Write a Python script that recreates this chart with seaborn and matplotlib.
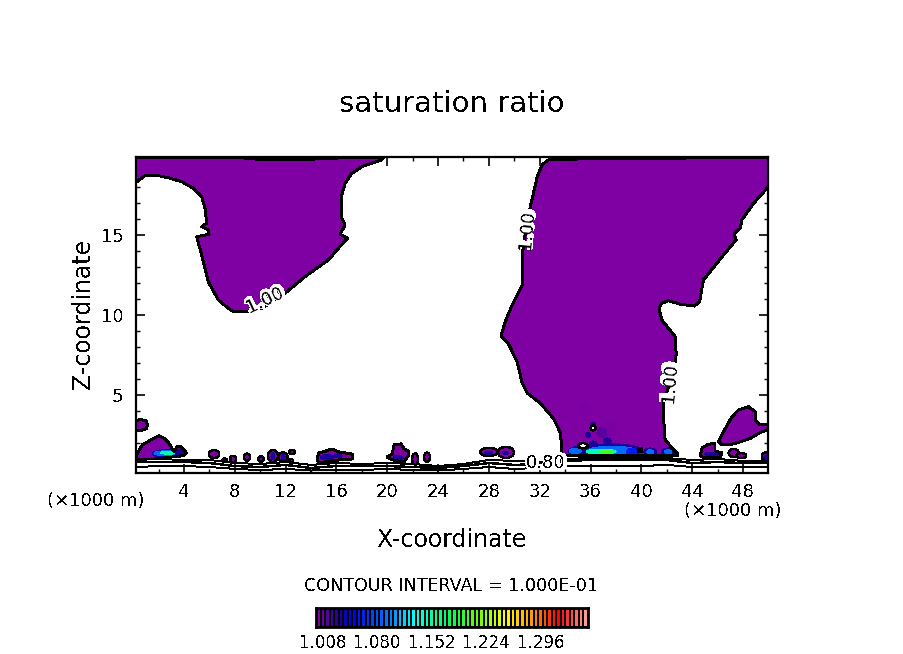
import numpy as np
import seaborn as sns
import matplotlib
matplotlib.use("Agg")
import matplotlib.pyplot as plt
import matplotlib.patheffects as pe
from matplotlib.colors import LinearSegmentedColormap, ListedColormap
from matplotlib.patches import Ellipse

# 1.00 contour outlines (x in km, z in km)
left_cloud_x = [0.22, 0.93, 1.72, 2.77, 3.82, 4.73, 5.39, 5.65, 5.79, 5.39, 5.91, 5.97, 5.0, 5.39, 5.91, 6.70, 7.76,
                8.80, 10.12, 11.95, 13.53, 15.36, 16.15, 16.89, 16.28, 16.68, 16.42, 16.42, 16.68, 17.2, 17.99, 19.57,
                19.7, 0.22]
left_cloud_z = [18.29, 18.71, 18.75, 18.58, 18.33, 17.92, 17.40, 16.67, 15.73, 15.52, 15.31, 15.04, 14.9, 13.75, 12.08,
                10.94, 10.25, 10.21, 10.42, 11.35, 12.4, 13.44, 14.17, 14.79, 15.04, 15.63, 16.04, 17.5, 18.23, 18.85,
                19.27, 19.69, 19.83, 19.83]

main_cloud_x = [32.19, 32.66, 33.45, 36.76, 49.98, 49.98, 48.83, 47.91, 47.78, 47.31, 47.46, 46.46, 44.89, 44.58, 44.16,
                43.06, 42.13, 41.61, 41.4, 41.61, 42.66, 42.74, 42.66, 41.74, 41.71, 41.87, 42.35, 42.82, 42.82, 33.68,
                33.68, 33.6, 33.06, 32.03, 31.01, 30.62, 30.22, 29.51, 28.96, 29.28, 29.83, 30.62, 30.62, 30.85, 31.24,
                31.8, 32.19]
main_cloud_z = [19.38, 19.69, 19.72, 19.78, 19.84, 18.0, 16.98, 15.94, 15.42, 15.1, 14.69, 13.75, 12.19, 10.83, 10.56,
                10.67, 10.9, 10.73, 10.42, 9.69, 8.65, 7.6, 6.77, 4.58, 4.06, 2.19, 1.75, 1.38, 1.19, 1.19,
                2.19, 2.69, 3.56, 4.5, 5.13, 5.75, 7.06, 8.25, 8.69, 9.56, 10.63, 11.88, 13.75, 15.0, 16.69,
                18.63, 19.38]

right_cloud_x = [46.07, 46.47, 47.13, 47.65, 48.43, 48.96, 48.96, 49.35, 49.98, 49.98, 49.22, 48.57, 47.78, 47.13, 46.34,
                 46.07]
right_cloud_z = [2.08, 2.71, 3.64, 4.06, 4.27, 3.96, 3.44, 3.13, 3.13, 2.85, 2.6, 2.29, 2.08, 1.92, 1.88, 2.08]

wall_cloud_x = [0.22, 0.61, 1.01, 1.13, 1.01, 0.61, 0.22, 0.22]
wall_cloud_z = [3.41, 3.47, 3.38, 3.13, 2.88, 2.78, 2.81, 3.41]

low_cloud_x = [0.22, 0.32, 0.72, 1.38, 2.03, 2.43, 2.82, 3.21, 3.47, 3.74, 4.18, 4.0, 3.21, 1.64, 0.22, 0.22]
low_cloud_z = [1.0, 1.35, 1.88, 2.19, 2.46, 2.29, 1.98, 1.46, 1.81, 1.77, 1.39, 1.21, 1.14, 1.0, 1.0, 1.0]

blob16_x = [14.47, 14.63, 15.18, 15.65, 16.2, 16.68, 17.23, 17.23, 16.2, 15.0, 14.55, 14.47]
blob16_z = [1.06, 1.38, 1.5, 1.63, 1.44, 1.38, 1.31, 1.0, 0.94, 0.81, 0.81, 1.06]

blob20_x = [19.98, 20.38, 20.54, 21.09, 21.32, 21.64, 21.64, 21.32, 20.77, 20.22, 19.98]
blob20_z = [1.12, 1.31, 1.88, 1.94, 1.63, 1.5, 1.19, 0.81, 0.88, 1.0, 1.12]

blob45_x = [44.63, 44.79, 45.18, 45.8, 45.8, 46.35, 46.2, 44.79, 44.63]
blob45_z = [1.25, 1.69, 1.88, 2.0, 1.5, 1.38, 1.12, 1.12, 1.25]

top_edge_x = [8.8, 11.0, 13.5, 16.0]
top_edge_z = [19.76, 19.74, 19.74, 19.78]

# small supersaturated pockets
pocket_x = [6.36, 7.2, 7.86, 8.96, 10.06, 11.0, 11.8, 12.5, 12.43, 22.19, 23.13, 28.0, 29.35, 47.27, 47.86, 49.8]
pocket_z = [1.31, 0.94, 1.0, 1.12, 1.0, 1.19, 1.12, 1.44, 0.88, 1.0, 1.12, 1.44, 1.41, 1.38, 1.21, 1.16]
pocket_w = [0.79, 0.31, 0.47, 0.47, 0.39, 0.79, 0.71, 0.47, 0.31, 0.47, 0.47, 1.42, 1.26, 0.79, 0.79, 0.63]
pocket_h = [0.5, 0.19, 0.38, 0.44, 0.38, 0.75, 0.56, 0.25, 0.25, 0.69, 0.56, 0.5, 0.69, 0.5, 0.31, 0.5]

# saturation maxima inside the clouds
hot_x = [35.57, 37.4, 36.9, 2.74, 2.58, 2.74, 3.61, 11.0, 11.8, 15.26, 16.13, 20.85, 28.0, 29.28, 45.5, 49.8,
         35.03, 34.79, 37.7, 37.7, 36.84, 37.23, 39.28, 40.69, 40.69, 42.1, 42.1, 37.3, 36.2, 36.2, 35.8]
hot_z = [4.06, 2.69, 2.63, 1.34, 1.36, 1.39, 1.41, 1.16, 1.12, 1.12, 1.19, 1.06, 1.38, 1.38, 1.3, 1.12,
         1.5, 1.5, 1.55, 1.52, 1.46, 1.5, 1.45, 1.44, 1.44, 1.44, 1.44, 2.13, 1.94, 3.13, 2.5]
hot_w = [0.94, 1.1, 0.79, 2.44, 1.9, 1.18, 0.63, 0.31, 0.31, 1.1, 0.63, 0.79, 0.63, 0.47, 1.1, 0.31,
         1.57, 0.94, 4.72, 3.94, 2.36, 0.94, 0.94, 1.0, 0.55, 1.0, 0.55, 0.63, 0.63, 0.39, 0.39]
hot_h = [0.88, 1.25, 0.63, 0.5, 0.31, 0.19, 0.38, 0.44, 0.31, 0.31, 0.25, 0.38, 0.19, 0.19, 0.25, 0.25,
         0.55, 0.3, 0.8, 0.55, 0.32, 0.19, 0.42, 0.5, 0.28, 0.5, 0.28, 0.38, 0.38, 0.31, 0.31]
hot_level = [1.004, 1.004, 1.012, 1.03, 1.09, 1.15, 1.03, 1.03, 1.03, 1.03, 1.03, 1.03, 1.03, 1.03, 1.03, 1.03,
             1.03, 1.09, 1.03, 1.09, 1.15, 1.2, 1.06, 1.03, 1.09, 1.03, 1.09, 1.03, 1.03, 1.03, 1.03]

# holes and specks
hole_x = [35.4, 36.2]
hole_z = [1.83, 2.94]
hole_w = [0.79, 0.39]
hole_h = [0.31, 0.31]
speck_x = [39.9]
speck_z = [1.56]

# low level contours
base_x = [0.22, 2, 4, 6, 8, 10, 12, 14, 16, 18, 20, 22, 24, 26, 28, 30, 32, 34, 36, 38, 40, 42, 44, 46, 48, 49.97]
base_z1 = [0.94, 1.0, 0.94, 0.94, 0.75, 0.69, 0.81, 0.63, 0.75, 0.69, 0.75, 0.69, 0.56, 0.69, 0.94, 0.88, 0.81, 1.0,
           1.06, 1.06, 1.06, 1.06, 0.94, 1.0, 0.88, 0.88]
base_z2 = [0.81, 0.81, 0.81, 0.75, 0.56, 0.5, 0.63, 0.44, 0.56, 0.56, 0.56, 0.5, 0.44, 0.56, 0.75, 0.63, 0.69, 0.88,
           0.94, 0.94, 0.94, 0.94, 0.75, 0.81, 0.75, 0.75]
base_z3 = [0.5, 0.56, 0.56, 0.5, 0.38, 0.31, 0.38, 0.28, 0.31, 0.31, 0.38, 0.31, 0.28, 0.38, 0.5, 0.38, 0.44, 0.56,
           0.56, 0.56, 0.56, 0.63, 0.5, 0.5, 0.5, 0.5]

label_x = [10.38, 31.0, 42.27, 32.5]
label_z = [10.94, 15.31, 5.75, 0.75]
label_text = ["1.00", "1.00", "1.00", "0.80"]
label_rot = [25, 85, 85, 0]

# colour bar
cbar_levels = [1.002 + 0.006 * k for k in range(60)]
cbar_ticks = ["1.008", "1.080", "1.152", "1.224", "1.296"]

sns.set_style("ticks")
plt.rcParams["font.family"] = ["DejaVu Sans"]
plt.rcParams["text.antialiased"] = False
plt.rcParams["text.color"] = "black"
plt.rcParams["xtick.color"] = "black"
plt.rcParams["ytick.color"] = "black"
plt.rcParams["axes.edgecolor"] = "black"

W, H = 904, 654
PURPLE = "#7f00a3"
level_cmap = LinearSegmentedColormap.from_list(
    "sat", [(0, "#7f00a3"), (0.08, "#1a0099"), (0.13, "#0000f0"), (0.27, "#0080ff"), (0.35, "#00ffff"),
            (0.5, "#00ff4d"), (0.6, "#66ff00"), (0.7, "#ffff00"), (0.8, "#ff9900"), (0.9, "#ff0000"), (1, "#ff9999")])


def level_colour(v):
    return level_cmap((v - 1.002) / 0.354)


fig = plt.figure(figsize=(W / 100, H / 100), dpi=100, facecolor="white")
ax = fig.add_axes([136 / W, 1 - 473 / H, 632 / W, 316 / H])

clouds = [(left_cloud_x, left_cloud_z), (main_cloud_x, main_cloud_z), (right_cloud_x, right_cloud_z),
          (wall_cloud_x, wall_cloud_z), (low_cloud_x, low_cloud_z), (blob16_x, blob16_z), (blob20_x, blob20_z),
          (blob45_x, blob45_z)]
for cx, cz in clouds:
    ax.fill(cx, cz, color=PURPLE, lw=0, antialiased=False, zorder=1)
    sns.lineplot(x=cx, y=cz, sort=False, estimator=None, color="black", lw=1.4, ax=ax, zorder=4, antialiased=False)

for x, z, w, h in zip(pocket_x, pocket_z, pocket_w, pocket_h):
    ax.add_patch(Ellipse((x, z), w, h, fc=PURPLE, ec="black", lw=1.0, antialiased=False, zorder=1.5))

for i in np.argsort(hot_level, kind="stable"):
    ax.add_patch(Ellipse((hot_x[i], hot_z[i]), hot_w[i], hot_h[i], fc=level_colour(hot_level[i]), lw=0,
                         antialiased=False, zorder=2 + i * 0.001))

for x, z, w, h in zip(hole_x, hole_z, hole_w, hole_h):
    ax.add_patch(Ellipse((x, z), w, h, fc="white", ec="black", lw=1.0, antialiased=False, zorder=3))
sns.scatterplot(x=speck_x, y=speck_z, color="black", marker="s", s=14, linewidth=0, ax=ax, zorder=3)

sns.lineplot(x=top_edge_x, y=top_edge_z, sort=False, estimator=None, color="black", lw=1.5, ax=ax, zorder=4,
             antialiased=False)
for zs, lw in [(base_z1, 0.7), (base_z2, 1.0), (base_z3, 0.7)]:
    sns.lineplot(x=base_x, y=zs, sort=False, estimator=None, color="black", lw=lw, ax=ax, zorder=3,
                 antialiased=False)

# white knock-out under each contour label, then the plain label on top
for x, z, s, r in zip(label_x, label_z, label_text, label_rot):
    ax.text(x, z, s, rotation=r, rotation_mode="anchor", ha="center", va="center", fontsize=13, zorder=5,
            path_effects=[pe.Stroke(linewidth=2.5, foreground="white")])
    ax.text(x, z, s, rotation=r, rotation_mode="anchor", ha="center", va="center", fontsize=13, zorder=5.1)

ax.set_xlim(0.22, 49.97)
ax.set_ylim(0.125, 19.875)
ax.set_xticks(np.arange(4, 49, 4))
ax.set_xticks(np.arange(2, 50, 4), minor=True)
ax.set_yticks([5, 10, 15])
ax.set_yticks([z for z in range(1, 20) if z % 5], minor=True)
ax.tick_params(which="major", direction="in", length=6.5, width=1.2, top=True, right=True, labelsize=13)
ax.tick_params(which="minor", direction="in", length=3, width=1.0, top=True, right=True)
ax.tick_params(axis="x", which="major", pad=7)
ax.tick_params(axis="y", which="major", pad=9)
for spine in ax.spines.values():
    spine.set_visible(True)
    spine.set_linewidth(1.6)
    spine.set_zorder(6)
ax.set_xlabel("")
ax.set_ylabel("")

# colour bar strip
cax = fig.add_axes([316 / W, 1 - 627 / H, 272 / W, 19 / H])
sns.heatmap(np.array([cbar_levels]), ax=cax, cbar=False, cmap=ListedColormap([level_colour(v) for v in cbar_levels]),
            linewidths=1.3, linecolor="black", xticklabels=False, yticklabels=False)
cax.set_xticks(np.arange(1, 60, 12) + 0.5)
cax.set_xticklabels(cbar_ticks, fontsize=12, rotation=0)
cax.tick_params(axis="x", length=0, pad=5)
cax.set_yticks([])
for spine in cax.spines.values():
    spine.set_visible(True)
    spine.set_linewidth(2)

fig.text(452 / W, 1 - 104 / H, "saturation ratio", ha="center", va="center", fontsize=21)
fig.text(452 / W, 1 - 540 / H, "X-coordinate", ha="center", va="center", fontsize=17)
fig.text(83 / W, 1 - 314 / H, "Z-coordinate", ha="center", va="center", rotation=90, fontsize=17)
fig.text(96 / W, 1 - 501 / H, "(×1000 m)", ha="center", va="center", fontsize=13)
fig.text(733 / W, 1 - 511 / H, "(×1000 m)", ha="center", va="center", fontsize=13)
fig.text(451 / W, 1 - 586 / H, "CONTOUR INTERVAL = 1.000E-01", ha="center", va="center", fontsize=12.6)

fig.savefig("out.png", dpi=100)
